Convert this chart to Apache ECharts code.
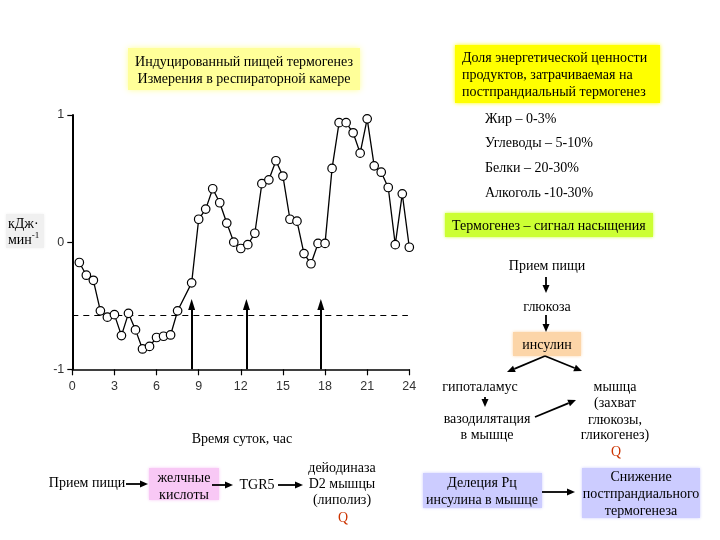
<!DOCTYPE html>
<html><head><meta charset="utf-8">
<script src="https://cdn.jsdelivr.net/npm/echarts@6/dist/echarts.min.js"></script>
<style>html,body{margin:0;padding:0;background:#fff}#c{width:720px;height:540px}</style>
</head><body><div id="c"></div>
<script>
// ---- data ----
const hours = [0.5,1,1.5,2,2.5,3,3.5,4,4.5,5,5.5,6,6.5,7,7.5,8.5,9,9.5,10,10.5,11,11.5,12,12.5,13,13.5,14,14.5,15,15.5,16,16.5,17,17.5,18,18.5,19,19.5,20,20.5,21,21.5,22,22.5,23,23.5,24];
const values = [-0.16,-0.26,-0.30,-0.54,-0.59,-0.57,-0.735,-0.56,-0.69,-0.84,-0.82,-0.75,-0.74,-0.73,-0.54,-0.32,0.18,0.26,0.42,0.31,0.15,0.00,-0.05,-0.02,0.07,0.46,0.49,0.64,0.52,0.18,0.165,-0.09,-0.17,-0.01,-0.01,0.58,0.94,0.94,0.86,0.70,0.97,0.60,0.55,0.43,-0.02,0.38,-0.04];
const mealHours = [8.5, 12.4, 17.7];
const mealArrowTop = -0.49;
const baselineLevel = -0.575;
const baselineRange = [0, 23.9];
const xRange = [0, 24, 3];
const yRange = [-1, 1, 1];

const SERIF = '"Liberation Serif","Times New Roman",serif';
const SANS = '"Liberation Sans",Arial,sans-serif';

function txt(x, y, text, opt) {
  opt = opt || {};
  return {type:'text', x:x, y:y, z:10, style:{text:text, font:(opt.size||14)+'px '+SERIF, fill:opt.color||'#000',
    align:opt.align||'center', verticalAlign:'middle', rich: opt.rich}};
}
function rect(x, y, w, h, color, blur) {
  return {type:'rect', z:5, shape:{x:x,y:y,width:w,height:h}, style:{fill:color, shadowBlur:blur||0, shadowColor:color}};
}
function arrow(x1, y1, x2, y2) {
  const dx = x2-x1, dy = y2-y1, L = Math.sqrt(dx*dx+dy*dy);
  const ux = dx/L, uy = dy/L, nx = -uy, ny = ux;
  const hl = 8, hw = 3.5;
  const bx = x2-ux*hl, by = y2-uy*hl;
  return [
    {type:'line', z:10, shape:{x1:x1,y1:y1,x2:bx,y2:by}, style:{stroke:'#000', lineWidth:1.8}},
    {type:'polygon', z:10, shape:{points:[[x2,y2],[bx+nx*hw,by+ny*hw],[bx-nx*hw,by-ny*hw]]}, style:{fill:'#000'}}
  ];
}

const g = [];
// top left box
g.push(rect(128,48,232,42,'#ffff99',6));
g.push(txt(244,62.5,'Индуцированный пищей термогенез',{size:14}));
g.push(txt(244,79.5,'Измерения в респираторной камере',{size:14}));
// top right box
g.push(rect(455,45,205,58,'#ffff00',4));
g.push(txt(462,58.5,'Доля энергетической ценности',{align:'left'}));
g.push(txt(462,75,'продуктов, затрачиваемая на',{align:'left'}));
g.push(txt(462,92,'постпрандиальный термогенез',{align:'left'}));
// list
g.push(txt(485,119.5,'Жир – 0-3%',{align:'left'}));
g.push(txt(485,143.5,'Углеводы – 5-10%',{align:'left'}));
g.push(txt(485,168.5,'Белки – 20-30%',{align:'left'}));
g.push(txt(485,193.5,'Алкоголь -10-30%',{align:'left'}));
// green box
g.push(rect(445,213,208,24,'#ccff33',3));
g.push(txt(452,226,'Термогенез – сигнал насыщения',{align:'left'}));
// y label
g.push(rect(6,214,38,34,'#f0f0f0',3));
g.push(txt(8,224,'кДж·',{align:'left'}));
g.push(txt(8,240,'мин{s|-1}',{align:'left', rich:{s:{font:'9px '+SERIF, verticalAlign:'top', padding:[0,0,8,0]}}}));
// right flow
g.push(txt(547,266,'Прием пищи'));
g.push(...arrow(546,277,546,293));
g.push(txt(547,307,'глюкоза'));
g.push(...arrow(546,315,546,332));
g.push(rect(513,332,68,24,'#fcd5a8',3));
g.push(txt(547,345.5,'инсулин'));
g.push(...arrow(545,356,507,372));
g.push(...arrow(545,356,582,371));
g.push(txt(480,387,'гипоталамус'));
g.push(...arrow(485,397,485,407));
g.push(txt(487,419.5,'вазодилятация'));
g.push(txt(487,435,'в мышце'));
g.push(...arrow(535,417,576,400));
g.push(txt(615,387,'мышца'));
g.push(txt(615,403.5,'(захват'));
g.push(txt(615,420,'глюкозы,'));
g.push(txt(615,435,'гликогенез)'));
g.push(txt(616,452,'Q',{color:'#cc3300'}));
// bottom right
g.push(rect(423,473,119,35,'#ccccff',3));
g.push(txt(482,483.5,'Делеция Рц'));
g.push(txt(482,500,'инсулина в мышце'));
g.push(...arrow(542,492,575,492));
g.push(rect(582,468,118,50,'#ccccff',3));
g.push(txt(641,477.5,'Снижение'));
g.push(txt(641,494,'постпрандиального'));
g.push(txt(641,511.5,'термогенеза'));
// bottom left
g.push(txt(242,439.5,'Время суток, час'));
g.push(txt(87,483.5,'Прием пищи'));
g.push(...arrow(126,484,148,484));
g.push(rect(149,468,70,32,'#f8c8f5',3));
g.push(txt(184,478.5,'желчные'));
g.push(txt(184,495,'кислоты'));
g.push(...arrow(212,485,233,485));
g.push(txt(257,485,'TGR5'));
g.push(...arrow(278,485,303,485));
g.push(txt(342,468.5,'дейодиназа'));
g.push(txt(342,484,'D2 мышцы'));
g.push(txt(342,500,'(липолиз)'));
g.push(txt(343,518.5,'Q',{color:'#cc3300'}));

const chart = echarts.init(document.getElementById('c'), null, {renderer:'canvas'});
chart.setOption({
  animation:false,
  backgroundColor:'#fff',
  grid:{left:72.3, right:310.7, top:115, bottom:170.7, containLabel:false},
  xAxis:{type:'value', min:xRange[0], max:xRange[1], interval:xRange[2],
    axisLine:{onZero:false, lineStyle:{color:'#000', width:1.5}},
    axisTick:{show:true, inside:false, length:6, lineStyle:{color:'#000', width:1.2}},
    axisLabel:{fontFamily:SANS, fontSize:12.5, color:'#333', margin:11},
    splitLine:{show:false}},
  yAxis:{type:'value', min:yRange[0], max:yRange[1], interval:yRange[2],
    axisLine:{show:true, onZero:false, lineStyle:{color:'#000', width:2}},
    axisTick:{show:true, length:5, lineStyle:{color:'#000', width:1.2}},
    axisLabel:{fontFamily:SANS, fontSize:12.5, color:'#333', margin:8},
    splitLine:{show:false}},
  series:[
    {type:'line', data:hours.map((h,i)=>[h, values[i]]), symbol:'circle', symbolSize:8.5,
     itemStyle:{color:'#fff', borderColor:'#000', borderWidth:1.2},
     lineStyle:{color:'#000', width:1.3}, z:5, clip:false,
     markLine:{silent:true, symbol:['none','none'], label:{show:false}, animation:false,
       lineStyle:{color:'#000', type:[6,5], width:1.2},
       data:[[{coord:[baselineRange[0], baselineLevel]},{coord:[baselineRange[1], baselineLevel]}]]}},
    {type:'line', data:[], markLine:{silent:true, symbol:['none','triangle'], symbolSize:[7,11], label:{show:false}, animation:false,
       lineStyle:{color:'#000', type:'solid', width:2},
       data: mealHours.map(h=>[{coord:[h, yRange[0]]},{coord:[h, mealArrowTop]}])}}
  ],
  graphic:g
});
</script></body></html>
